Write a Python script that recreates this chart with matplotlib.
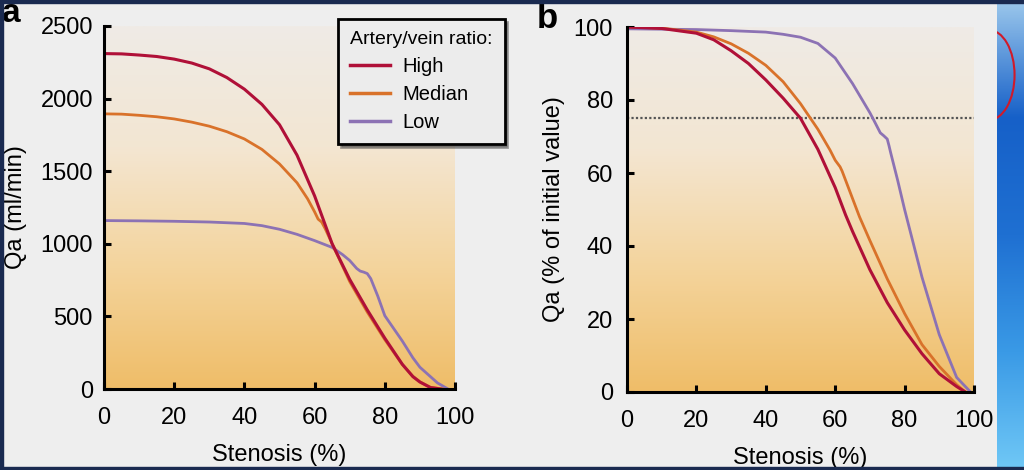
import numpy as np
import matplotlib
matplotlib.use("Agg")
import matplotlib.pyplot as plt
from matplotlib.colors import LinearSegmentedColormap
from matplotlib.lines import Line2D
from matplotlib.patches import Rectangle, Arc

plt.rcParams['font.family'] = ['Liberation Sans', 'DejaVu Sans']

# panel a: Qa (ml/min) vs stenosis (%)
high_a_x = [0, 5, 10, 15, 20, 25, 30, 35, 40, 45, 50, 55, 60, 65, 70, 75, 80, 85, 88, 90, 93, 96]
high_a_y = [2310, 2308, 2300, 2290, 2272, 2245, 2205, 2145, 2065, 1960, 1820, 1610, 1330, 1000,
            755, 545, 350, 170, 85, 48, 10, 0]
median_a_x = [0, 5, 10, 15, 20, 25, 30, 35, 40, 45, 50, 55, 58, 60, 61, 62, 63, 65, 70, 75, 80,
              85, 88, 90, 93, 96.5]
median_a_y = [1895, 1893, 1885, 1875, 1860, 1838, 1810, 1772, 1722, 1650, 1550, 1420, 1310, 1220,
              1170, 1150, 1105, 1000, 740, 530, 340, 168, 88, 50, 12, 0]
low_a_x = [0, 10, 20, 30, 40, 45, 50, 55, 60, 65, 68, 70, 72, 73, 74, 75, 76, 78, 80, 85, 88, 90,
           95, 98]
low_a_y = [1160, 1158, 1155, 1150, 1140, 1125, 1100, 1065, 1022, 975, 925, 885, 830, 812, 805,
           795, 760, 640, 505, 330, 215, 150, 42, 0]

# panel b: Qa (% of initial value) vs stenosis (%)
high_b_x = [0, 10, 20, 25, 30, 35, 40, 45, 50, 55, 60, 63, 65, 70, 75, 80, 85, 90, 95, 97.5]
high_b_y = [100, 99.6, 98.3, 96.5, 93.5, 90, 85.5, 80.5, 75, 66.5, 56, 48.5, 44, 33.5, 24.5, 17,
            10.5, 5, 1.5, 0]
median_b_x = [0, 10, 20, 25, 30, 35, 40, 45, 50, 55, 58.5, 60, 61.4, 62, 65, 67, 70, 75, 80, 85,
              90, 95, 97.5]
median_b_y = [100, 99.7, 98.6, 97.3, 95.4, 92.8, 89.5, 85, 79, 72, 66.3, 63.5, 61.7, 60.5, 53, 48,
              41.5, 31, 21.5, 13, 7, 2, 0]
low_b_x = [0, 20, 30, 40, 45, 50, 55, 60, 65, 70, 71, 73, 74, 75, 75.5, 76, 78, 80, 85, 90, 95, 99]
low_b_y = [99.5, 99.3, 99, 98.6, 98, 97.2, 95.5, 91.5, 84.5, 76.5, 74.7, 71, 70.2, 69.3, 67.5,
           65.5, 58, 50, 31.5, 15.7, 4, 0]
threshold_b = 75

x_ticks = [0, 20, 40, 60, 80, 100]
y_ticks_a = [0, 500, 1000, 1500, 2000, 2500]
y_ticks_b = [0, 20, 40, 60, 80, 100]
labels = ['High', 'Median', 'Low']
colors = ['#b01038', '#d9722a', '#8c72b4']

W, H = 1024, 470
fig = plt.figure(figsize=(W / 100, H / 100), dpi=100)
fig.patch.set_facecolor('#eeeeee')

grad = LinearSegmentedColormap.from_list('bg', ['#efbd68', '#f4d49c', '#f3e6d2', '#efebe6'])


def panel(rect, ymax, yticks, ylabel, ypad):
    ax = fig.add_axes(rect)
    ax.set_facecolor('none')
    g = np.linspace(0, 1, 256).reshape(-1, 1)
    ax.imshow(g, cmap=grad, origin='lower', extent=[0, 100, 0, ymax], aspect='auto', zorder=0)
    ax.set_xlim(0, 100)
    ax.set_ylim(0, ymax)
    for s in ['top', 'right']:
        ax.spines[s].set_visible(False)
    for s in ['left', 'bottom']:
        ax.spines[s].set_linewidth(2.2)
    ax.set_xticks(x_ticks)
    ax.set_yticks(yticks)
    ax.tick_params(direction='in', length=5, width=2.2, labelsize=17)
    ax.tick_params(axis='x', pad=13)
    ax.tick_params(axis='y', pad=ypad)
    ax.set_xlabel('Stenosis (%)', fontsize=17, labelpad=11)
    ax.set_ylabel(ylabel, fontsize=17)
    return ax


ax1 = panel([104 / W, 1 - 389 / H, 351 / W, 363 / H], 2500, y_ticks_a, 'Qa (ml/min)', 8)
ax1.plot(low_a_x, low_a_y, color=colors[2], lw=2)
ax1.plot(median_a_x, median_a_y, color=colors[1], lw=2)
ax1.plot(high_a_x, high_a_y, color=colors[0], lw=2.2)
ax1.yaxis.set_label_coords(-0.22, 0.5)

ax2 = panel([627 / W, 1 - 392 / H, 347 / W, 365 / H], 100, y_ticks_b, 'Qa (% of initial value)', 10)
ax2.axhline(threshold_b, color='#555555', lw=1.6, ls=(0, (1, 1)), zorder=1)
ax2.plot(low_b_x, low_b_y, color=colors[2], lw=2)
ax2.plot(median_b_x, median_b_y, color=colors[1], lw=2)
ax2.plot(high_b_x, high_b_y, color=colors[0], lw=2.2)
ax2.yaxis.set_label_coords(-0.18, 0.5)

handles = [Line2D([], [], color=c, lw=2.5) for c in colors]
leg = ax1.legend(handles, labels, title='Artery/vein ratio:', loc='upper left',
                 bbox_to_anchor=(338 / W, 1 - 19 / H), bbox_transform=fig.transFigure,
                 borderaxespad=0, fontsize=14.5, title_fontsize=14, frameon=True,
                 fancybox=False, shadow=True, edgecolor='black', facecolor='#ececec',
                 framealpha=1, handlelength=2.0, handletextpad=0.6, labelspacing=0.45,
                 borderpad=0.6, alignment='left')
leg.get_frame().set_linewidth(2)

fig.text(2 / W, 1 - 22 / H, 'a', fontsize=24, fontweight='bold', va='baseline')
fig.text(537 / W, 1 - 28 / H, 'b', fontsize=25, fontweight='bold', va='baseline')

# slide decoration around the figure
deco = fig.add_axes([997 / W, 0, 27 / W, 1])
blue = LinearSegmentedColormap.from_list('bl', ['#70c8f6', '#3a9ae6', '#1f70d2', '#1660c8', '#9cc8ec'])
deco.imshow(np.linspace(0, 1, 256).reshape(-1, 1), cmap=blue, origin='lower',
            extent=[0, 1, 0, 1], aspect='auto')
deco.add_patch(Arc((-0.3, 1 - 75 / H), 1.9, 90 / H, theta1=-90, theta2=90, color='#d01a2a', lw=1.5))
deco.set_xlim(0, 1)
deco.set_ylim(0, 1)
deco.axis('off')
fig.patches.append(Rectangle((0, 1 - 3 / H), 1, 3 / H, transform=fig.transFigure,
                             color='#1a2a50', zorder=5))
fig.patches.append(Rectangle((0, 0), 1, 3 / H, transform=fig.transFigure,
                             color='#1a2a50', zorder=5))
fig.patches.append(Rectangle((0, 0), 3 / W, 1, transform=fig.transFigure,
                             color='#1a2a50', zorder=5))

fig.savefig('out.png', dpi=100, facecolor=fig.get_facecolor())
